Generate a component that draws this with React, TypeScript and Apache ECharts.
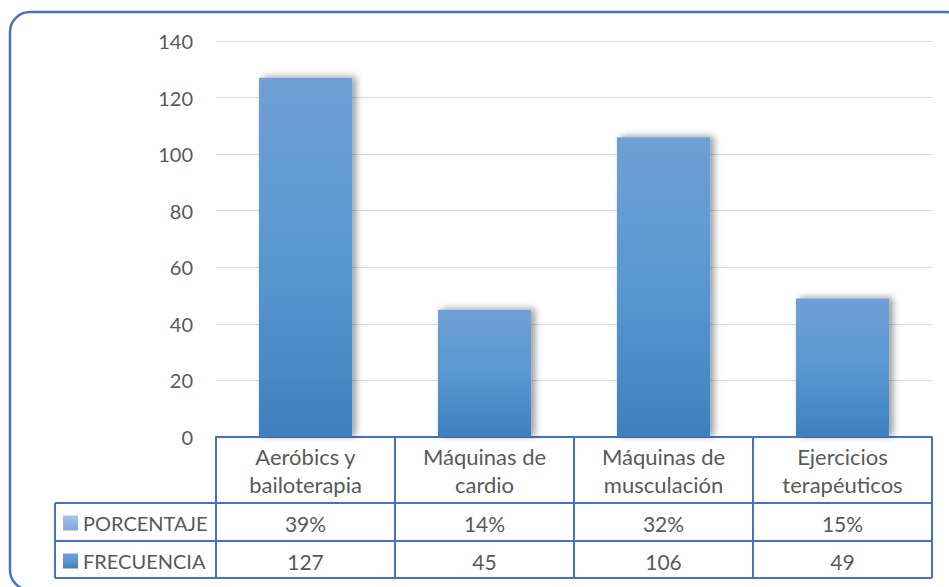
import React, { useEffect, useRef } from "react";
import * as echarts from "echarts";

const categories = ["Aeróbics y\nbailoterapia", "Máquinas de\ncardio", "Máquinas de\nmusculación", "Ejercicios\nterapéuticos"];
const frecuencia = [127, 45, 106, 49];
const porcentaje = [0.39, 0.14, 0.32, 0.15];
const porcentajeLabels = ["39%", "14%", "32%", "15%"];
const yTicks = { min: 0, max: 140, interval: 20 };

const W = 949;
const H = 587;
const GRID = { left: 216, right: 17, top: 41, bottom: 150 };
const BLUE = "#4472C4";
const TXT = "#595959";
const FONT = "Lato";

export default function App() {
  const ref = useRef<HTMLDivElement>(null);
  useEffect(() => {
    if (!ref.current) return;
    const chart = echarts.init(ref.current, null, { renderer: "svg" });
    const axisY = H - GRID.bottom; // 437
    const tableLeft = 55;
    const tableRight = W - GRID.right;
    const row1 = 503;
    const row2 = 541;
    const row3 = 578;

    const barGrad = new echarts.graphic.LinearGradient(0, 0, 0, 1, [
      { offset: 0, color: "#6FA0D4" },
      { offset: 0.5, color: "#5A97D2" },
      { offset: 1, color: "#3F7FC0" },
    ]);
    const pctGrad = new echarts.graphic.LinearGradient(0, 0, 0, 1, [
      { offset: 0, color: "#A7C4E6" },
      { offset: 1, color: "#7DA8DA" },
    ]);

    chart.setOption({
      animation: false,
      textStyle: { fontFamily: FONT },
      grid: { ...GRID, containLabel: false },
      legend: {
        orient: "vertical",
        left: 63,
        top: 511,
        padding: 0,
        itemWidth: 15,
        itemHeight: 15,
        itemGap: 14,
        selectedMode: false,
        icon: "rect",
        data: ["PORCENTAJE", "FRECUENCIA"],
        textStyle: { fontSize: 20, color: TXT, fontFamily: FONT, lineHeight: 24, padding: [0, 0, 0, 0] },
      },
      xAxis: [
        {
          type: "category",
          data: categories,
          position: "bottom",
          axisLine: { show: true, lineStyle: { color: BLUE, width: 2 } },
          axisTick: { show: true, length: row3 - axisY, lineStyle: { color: BLUE, width: 2 } },
          axisLabel: {
            fontSize: 22,
            lineHeight: 28,
            color: TXT,
            fontFamily: FONT,
            margin: 5,
            verticalAlign: "top",
            interval: 0,
          },
        },
        {
          type: "category",
          data: porcentajeLabels,
          position: "bottom",
          axisLine: { show: false },
          axisTick: { show: false },
          axisLabel: { fontSize: 21, color: TXT, fontFamily: FONT, margin: 74, lineHeight: 24, verticalAlign: "top", interval: 0 },
        },
        {
          type: "category",
          data: frecuencia.map(String),
          position: "bottom",
          axisLine: { show: false },
          axisTick: { show: false },
          axisLabel: { fontSize: 21, color: TXT, fontFamily: FONT, margin: 112, lineHeight: 24, verticalAlign: "top", interval: 0 },
        },
      ],
      yAxis: {
        type: "value",
        min: yTicks.min,
        max: yTicks.max,
        interval: yTicks.interval,
        axisLine: { show: false },
        axisTick: { show: false },
        axisLabel: { fontSize: 20, color: TXT, fontFamily: FONT, margin: 23 },
        splitLine: { lineStyle: { color: "#D9D9D9", width: 1 } },
      },
      series: [
        {
          name: "PORCENTAJE",
          type: "bar",
          data: porcentaje,
          barWidth: "52%",
          barGap: "-100%",
          itemStyle: { color: pctGrad },
          z: 1,
        },
        {
          name: "FRECUENCIA",
          type: "bar",
          data: frecuencia,
          barWidth: "52%",
          barGap: "-100%",
          itemStyle: {
            color: barGrad,
            shadowColor: "rgba(0,0,0,0.4)",
            shadowBlur: 7,
            shadowOffsetX: 4,
            shadowOffsetY: -1,
          },
          z: 2,
        },
      ],
      graphic: [
        {
          type: "rect",
          shape: { x: 10, y: 12, width: 956, height: 578, r: 20 },
          style: { fill: "none", stroke: BLUE, lineWidth: 2.5 },
          z: 0,
          silent: true,
        },
        {
          type: "line",
          shape: { x1: tableLeft, y1: row1, x2: tableRight, y2: row1 },
          style: { stroke: BLUE, lineWidth: 2 },
          z: 10,
        },
        {
          type: "line",
          shape: { x1: tableLeft, y1: row2, x2: tableRight, y2: row2 },
          style: { stroke: BLUE, lineWidth: 2 },
          z: 10,
        },
        {
          type: "line",
          shape: { x1: tableLeft, y1: row3, x2: tableRight, y2: row3 },
          style: { stroke: BLUE, lineWidth: 2 },
          z: 10,
        },
        {
          type: "line",
          shape: { x1: tableLeft, y1: row1, x2: tableLeft, y2: row3 },
          style: { stroke: BLUE, lineWidth: 2 },
          z: 10,
        },
      ],
    });
    return () => chart.dispose();
  }, []);
  return (
    <div
      ref={ref}
      style={{ position: "fixed", left: 0, top: 0, width: W, height: H, background: "#fff" }}
    />
  );
}
